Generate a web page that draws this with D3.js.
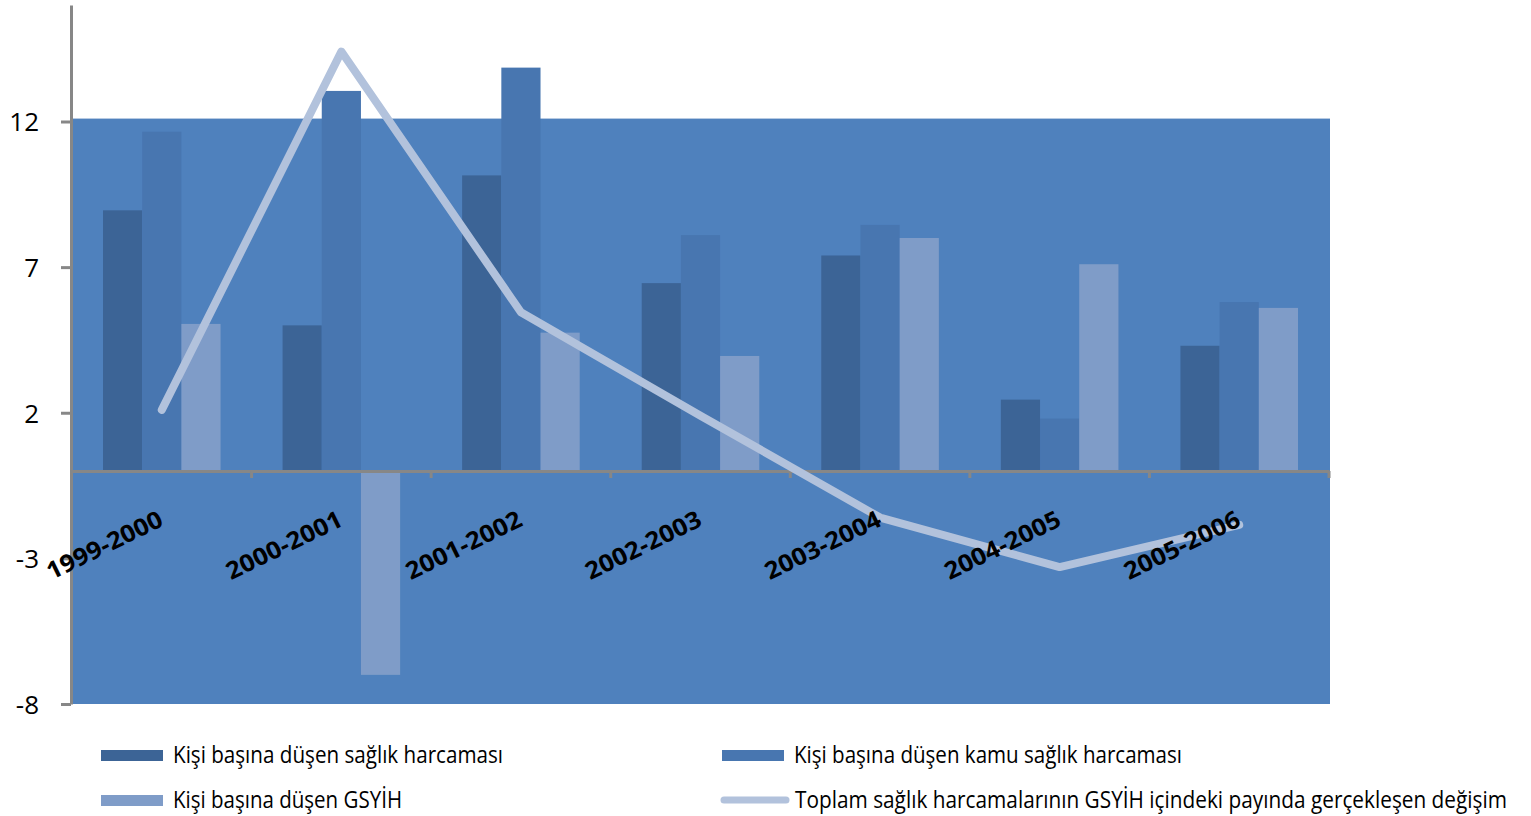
<!DOCTYPE html>
<html>
<head>
<meta charset="utf-8">
<script src="https://cdn.jsdelivr.net/npm/d3@7"></script>
<style>
  body { margin: 0; background: #fff; }
  svg { display: block; }
</style>
</head>
<body>
<div id="chart"></div>
<script>
// Data
const categories = ["1999-2000", "2000-2001", "2001-2002", "2002-2003", "2003-2004", "2004-2005", "2005-2006"]
const seriesNames = [
  "Kişi başına düşen sağlık harcaması",
  "Kişi başına düşen kamu sağlık harcaması",
  "Kişi başına düşen GSYİH"
]
const lineName = "Toplam sağlık harcamalarının GSYİH içindeki payında gerçekleşen değişim"
const perCapitaHealth = [8.95, 5.0, 10.15, 6.45, 7.4, 2.45, 4.3]
const perCapitaPublic = [11.65, 13.05, 13.85, 8.1, 8.45, 1.8, 5.8]
const perCapitaGdp = [5.05, -7.0, 4.75, 3.95, 8.0, 7.1, 5.6]
const shareChange = [2.1, 14.4, 5.45, 1.9, -1.6, -3.3, -1.85]
const yTicks = [12, 7, 2, -3, -8]

const barColors = ["#3c6496", "#4876b0", "#7f9cc8"]
const lineColor = "#b2c2dc"
const axisColor = "#878787"

const width = 1531
const height = 816

const svg = d3.select("#chart")
  .append("svg")
  .attr("width", width)
  .attr("height", height)

const x = d3.scaleBand().domain(categories).range([72, 1329])
const xInner = d3.scaleBand()
  .domain(d3.range(3))
  .range([31, x.bandwidth() - 31])
const y = d3.scaleLinear().domain([-8, 16]).range([704, 5])

// plot area fill
svg.append("rect")
  .attr("x", 73)
  .attr("y", y(12.1))
  .attr("width", 1330 - 73)
  .attr("height", y(-8) - y(12.1))
  .attr("fill", "#4f81bd")

// bars
const allSeries = [perCapitaHealth, perCapitaPublic, perCapitaGdp]
allSeries.forEach((values, s) => {
  svg.append("g")
    .selectAll("rect")
    .data(values)
    .enter()
    .append("rect")
    .attr("x", (d, i) => x(categories[i]) + xInner(s))
    .attr("y", d => y(Math.max(0, d)))
    .attr("width", xInner.bandwidth())
    .attr("height", d => Math.abs(y(d) - y(0)))
    .attr("fill", barColors[s])
})

// zero axis with category ticks
const xAxis = d3.axisBottom(x).tickSize(0).tickFormat("")
const xg = svg.append("g")
  .attr("transform", `translate(0, ${y(0)})`)
  .call(xAxis)
xg.select(".domain").attr("stroke", axisColor).attr("stroke-width", 3)
xg.selectAll(".tick").remove()
xg.selectAll(".sep")
  .data(categories)
  .enter()
  .append("line")
  .attr("x1", d => x(d) + x.bandwidth())
  .attr("x2", d => x(d) + x.bandwidth())
  .attr("y1", 0)
  .attr("y2", 7)
  .attr("stroke", axisColor)
  .attr("stroke-width", 3)

// y axis
const yAxis = d3.axisLeft(y)
  .tickValues(yTicks)
  .tickFormat(d => String(d))
  .tickSize(10)
  .tickSizeOuter(0)
const yg = svg.append("g")
  .attr("transform", "translate(71, 0)")
  .call(yAxis)
yg.select(".domain").attr("stroke", axisColor).attr("stroke-width", 3)
yg.selectAll(".tick line").attr("stroke", axisColor).attr("stroke-width", 3)
yg.selectAll(".tick text")
  .attr("x", -32)
  .attr("dy", "0.36em")
  .attr("fill", "#000")
  .style("font-family", "'Open Sans', sans-serif")
  .style("font-size", "26px")

// line series
const line = d3.line()
  .x((d, i) => x(categories[i]) + x.bandwidth() / 2)
  .y(d => y(d))
svg.append("path")
  .datum(shareChange)
  .attr("d", line)
  .attr("fill", "none")
  .attr("stroke", lineColor)
  .attr("stroke-width", 8)
  .attr("stroke-linecap", "round")
  .attr("stroke-linejoin", "round")

// category labels (drawn over the line, as in the reference)
svg.append("g")
  .selectAll("text")
  .data(categories)
  .enter()
  .append("text")
  .attr("transform", d => `translate(${x(d) + x.bandwidth() / 2 + 3}, 525) rotate(-26)`)
  .attr("text-anchor", "end")
  .attr("textLength", 126)
  .attr("lengthAdjust", "spacingAndGlyphs")
  .style("font-family", "'Open Sans', sans-serif")
  .style("font-weight", "bold")
  .style("font-size", "24px")
  .attr("fill", "#000")
  .text(d => d)

// legend
const legendItems = [
  { name: seriesNames[0], color: barColors[0], type: "bar", x: 101, y: 755, len: 330 },
  { name: seriesNames[1], color: barColors[1], type: "bar", x: 722, y: 755, len: 388 },
  { name: seriesNames[2], color: barColors[2], type: "bar", x: 101, y: 800, len: 229 },
  { name: lineName, color: lineColor, type: "line", x: 722, y: 800, len: 712 }
]
const squeeze = 0.78 // narrow glyphs, like the condensed legend font
const lg = svg.append("g")
  .selectAll("g")
  .data(legendItems)
  .enter()
  .append("g")
  .attr("transform", d => `translate(${d.x}, ${d.y})`)

lg.filter(d => d.type === "bar")
  .append("rect")
  .attr("x", 0)
  .attr("y", -5)
  .attr("width", 62)
  .attr("height", 11)
  .attr("fill", d => d.color)

lg.filter(d => d.type === "line")
  .append("line")
  .attr("x1", 2)
  .attr("x2", 64)
  .attr("y1", 0)
  .attr("y2", 0)
  .attr("stroke", d => d.color)
  .attr("stroke-width", 7)
  .attr("stroke-linecap", "round")

lg.append("text")
  .attr("transform", d => `translate(${d.type === "bar" ? 72 : 73}, 8) scale(${squeeze}, 1)`)
  .attr("textLength", d => d.len / squeeze)
  .attr("lengthAdjust", "spacingAndGlyphs")
  .style("font-family", "'Open Sans', sans-serif")
  .style("font-size", "23px")
  .attr("fill", "#000")
  .text(d => d.name)
</script>
</body>
</html>
